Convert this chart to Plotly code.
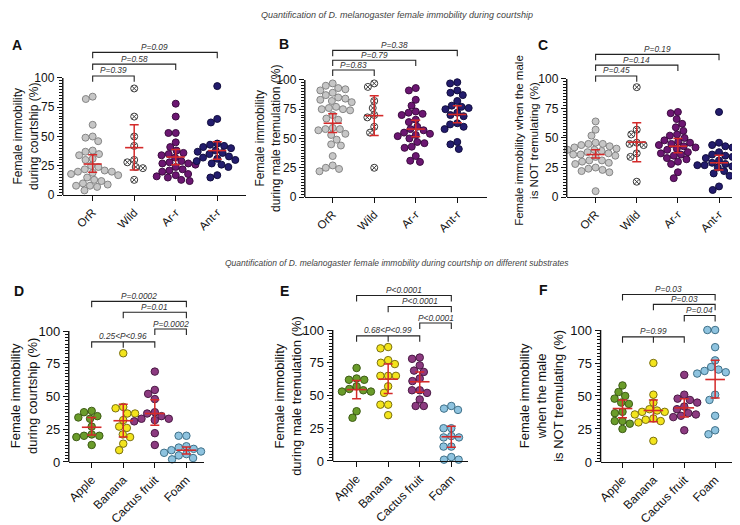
import numpy as np
import plotly.graph_objects as go

W, H = 740, 525

TOP_CATS = ["OrR", "Wild", "Ar-r", "Ant-r"]
BOT_CATS = ["Apple", "Banana", "Cactus fruit", "Foam"]

# ---------------- data ----------------
A_orr = [84, 82, 60, 50, 49, 46, 38, 37, 35, 34, 31, 30, 25, 24, 22, 21, 20, 20, 19, 18, 17, 15, 13, 12, 10, 9, 8, 8, 7, 4]
A_wild = [91, 67, 50, 42, 30, 28, 24, 23, 13]
A_arr = [78, 67, 53, 53, 45, 41, 38, 36, 35, 34, 32, 29, 28, 27, 27, 26, 24, 22, 21, 20, 18, 17, 16, 15, 13, 12]
A_antr = [93, 65, 62, 44, 43, 42, 41, 40, 38, 37, 36, 35, 33, 32, 31, 30, 29, 27, 26, 24, 17, 15]
A_mean = [26.5, 40.5, 32.5, 38]
A_lo = [19.5, 21.5, 26, 30.5]
A_hi = [34.5, 60, 39, 45.5]

B_orr = [97, 95, 93, 92, 91, 89, 87, 85, 84, 83, 82, 81, 77, 76, 75, 75, 74, 70, 67, 66, 59, 58, 58, 57, 54, 53, 49, 45, 44, 35, 27, 25, 24, 22]
B_wild = [97, 94, 82, 76, 70, 68, 60, 55, 25]
B_arr = [93, 91, 83, 78, 73, 72, 71, 70, 66, 64, 60, 58, 57, 55, 54, 53, 52, 50, 47, 46, 43, 42, 35, 31, 30]
B_antr = [98, 97, 91, 89, 87, 82, 78, 77, 76, 75, 72, 70, 69, 63, 62, 60, 58, 47, 45, 41]
B_mean = [63, 69.5, 58, 70.5]
B_lo = [55, 52.5, 51.5, 63.5]
B_hi = [71, 86.5, 65.5, 78]

C_orr = [64, 57, 52, 46, 45, 45, 44, 43, 42, 41, 40, 40, 39, 38, 37, 36, 36, 35, 34, 31, 31, 30, 29, 28, 25, 24, 23, 22, 21, 5]
C_wild = [93, 57, 53, 46, 45, 44, 37, 34, 13]
C_arr = [72, 71, 66, 62, 59, 56, 53, 52, 50, 48, 47, 46, 45, 44, 43, 42, 41, 40, 38, 37, 36, 35, 33, 32, 30, 28, 21, 16]
C_antr = [72, 46, 44, 43, 42, 38, 36, 35, 34, 33, 31, 30, 29, 28, 27, 27, 26, 25, 22, 20, 18, 9, 6]
C_mean = [36, 46.5, 43, 29]
C_lo = [33, 30, 37.5, 23]
C_hi = [40, 63, 49.5, 35.5]

D_apple = [39, 38, 35, 34, 33, 27, 21, 20, 20, 19, 13]
D_banana = [83, 42, 41, 37, 37, 32, 27, 26, 21, 19, 14, 9]
D_cactus = [69, 55, 52, 48, 38, 37, 35, 33, 33, 32, 31, 22, 13]
D_foam = [20, 20, 12, 11, 10, 9, 8, 7, 7, 6, 5, 3, 2]
D_mean = [26.5, 31.5, 37, 9]
D_lo = [20.5, 19, 28, 6]
D_hi = [34, 44, 47.5, 11.5]

E_apple = [71, 63, 62, 62, 57, 55, 54, 53, 53, 38, 33]
E_banana = [87, 86, 77, 75, 74, 65, 65, 65, 57, 52, 43, 43, 35]
E_cactus = [79, 78, 73, 69, 68, 63, 61, 54, 54, 52, 47, 42, 42]
E_foam = [42, 40, 39, 25, 25, 19, 18, 18, 11, 11, 3, 1, 1]
E_mean = [54.5, 62.5, 60.5, 18.5]
E_lo = [47.5, 51.5, 52.5, 10.5]
E_hi = [61.5, 74, 68, 26.5]

F_apple = [58, 53, 50, 48, 45, 44, 38, 37, 31, 31, 29, 25]
F_banana = [75, 51, 45, 40, 39, 38, 38, 36, 33, 32, 31, 30, 16]
F_cactus = [66, 51, 48, 47, 45, 42, 40, 37, 36, 35, 34, 24]
F_foam = [100, 100, 87, 77, 72, 70, 69, 68, 67, 51, 47, 35, 24, 21]
F_mean = [40.5, 39, 41, 62.5]
F_lo = [33.5, 30.5, 34, 48.5]
F_hi = [47, 47, 48, 77]

A_p = ["P=0.39", "P=0.58", "P=0.09"]
B_p = ["P=0.83", "P=0.79", "P=0.38"]
C_p = ["P=0.45", "P=0.14", "P=0.19"]
D_p = ["0.25<P<0.96", "P=0.0002", "P=0.01", "P=0.0002"]
E_p = ["0.68<P<0.99", "P<0.0001", "P<0.0001", "P<0.0001"]
F_p = ["P=0.99", "P=0.04", "P=0.03", "P=0.03"]

# ---------------- styles ----------------
FONT = "Arial, Liberation Sans, sans-serif"
RED = "#d42a2a"
TOP_STYLE = [
    dict(symbol="circle", color="#c6c6c6", line=dict(color="#858585", width=1)),
    dict(symbol="circle-x-open", color="#3a3a3a", line=dict(color="#3a3a3a", width=1)),
    dict(symbol="circle", color="#6c1672", line=dict(color="#3c0c40", width=1)),
    dict(symbol="circle", color="#231c6d", line=dict(color="#110d3e", width=1)),
]
BOT_STYLE = [
    dict(symbol="circle", color="#6a9c2a", line=dict(color="#3e5c16", width=1)),
    dict(symbol="circle", color="#f3e41c", line=dict(color="#7a7012", width=1)),
    dict(symbol="circle", color="#8c3a80", line=dict(color="#4a1a44", width=1)),
    dict(symbol="circle", color="#8ec3df", line=dict(color="#3f7088", width=1)),
]

# panel geometry (pixels): x-left, x-right, first category px, category spacing, y0 px, y100 px, top px
panels = [
    dict(key="A", groups=[A_orr, A_wild, A_arr, A_antr], mean=A_mean, lo=A_lo, hi=A_hi, cats=TOP_CATS, style=TOP_STYLE,
         geo=(52, 236, 82, 41.7, 190, 71, 33), letter=(6, 38), title="Female immobility<br>during courtship (%)", tpos=(15, 130),
         br=[(0, 1, None, 101.7), (0, 2, None, 111.8), (0, 3, None, 121.8)], pv=A_p, fs=12, xfs=11.5, tfs=12),
    dict(key="B", groups=[B_orr, B_wild, B_arr, B_antr], mean=B_mean, lo=B_lo, hi=B_hi, cats=TOP_CATS, style=TOP_STYLE,
         geo=(295, 478, 323, 41.7, 192, 73, 33), letter=(274, 37), title="Female immobility<br>during male tremulation (%)", tpos=(258, 132),
         br=[(0, 1, None, 108.4), (0, 2, None, 116.8), (0, 3, None, 125.2)], pv=B_p, fs=12, xfs=11.5, tfs=12),
    dict(key="C", groups=[C_orr, C_wild, C_arr, C_antr], mean=C_mean, lo=C_lo, hi=C_hi, cats=TOP_CATS, style=TOP_STYLE,
         geo=(558, 740, 587, 41.3, 192, 72, 33), letter=(534, 38), title="Female immobility when the male<br>is NOT tremulating (%)", tpos=(518, 134),
         br=[(0, 1, None, 102.5), (0, 2, None, 111.7), (0, 3, None, 120.8)], pv=C_p, fs=12, xfs=11.5, tfs=11.5),
    dict(key="D", groups=[D_apple, D_banana, D_cactus, D_foam], mean=D_mean, lo=D_lo, hi=D_hi, cats=BOT_CATS, style=BOT_STYLE,
         geo=(58, 194, 81, 31.7, 461, 328, 280), letter=(8, 287), title="Female immobility<br>during courtship (%)", tpos=(13, 394),
         br=[(0, 2, 1, 91.7), (2, 3, None, 101.5), (1, 3, None, 114.3), (0, 3, None, 122.6)], pv=D_p, fs=13, xfs=12, tfs=13),
    dict(key="E", groups=[E_apple, E_banana, E_cactus, E_foam], mean=E_mean, lo=E_lo, hi=E_hi, cats=BOT_CATS, style=BOT_STYLE,
         geo=(323, 459, 347, 31.7, 460, 327, 278), letter=(275, 287), title="Female immobility<br>during male tremulation (%)", tpos=(278, 394),
         br=[(0, 2, 1, 95.5), (2, 3, None, 105.3), (1, 3, None, 118.0), (0, 3, None, 126.3)], pv=E_p, fs=13, xfs=12, tfs=13),
    dict(key="F", groups=[F_apple, F_banana, F_cactus, F_foam], mean=F_mean, lo=F_lo, hi=F_hi, cats=BOT_CATS, style=BOT_STYLE,
         geo=(592, 724, 614, 31.0, 461, 327, 278), letter=(535, 286), title="Female immobility<br>when the male<br>is NOT tremulating (%)", tpos=(533, 394),
         br=[(0, 2, 1, 94.8), (2, 3, None, 111.0), (1, 3, None, 119.4), (0, 3, None, 126.9)], pv=F_p, fs=13, xfs=12, tfs=13),
]


def swarm(vals, ypx, xpx, d):
    """Simple beeswarm: returns x offsets (category units) so markers do not overlap."""
    vals = np.asarray(vals, float)
    order = np.argsort(-vals, kind="stable")
    placed = []
    offs = np.zeros(len(vals))
    for idx in order:
        y = vals[idx] * ypx
        cands = [0.0]
        for px, py in placed:
            dy = abs(py - y)
            if dy < d:
                dx = np.sqrt(d * d - dy * dy)
                cands += [px + dx, px - dx]
        cands.sort(key=lambda c: (round(abs(c), 3), c))
        for c in cands:
            if all((c - px) ** 2 + (y - py) ** 2 >= d * d - 1e-6 for px, py in placed):
                offs[idx] = c
                break
        placed.append((offs[idx], y))
    return offs / xpx


fig = go.Figure()
layout = dict(
    width=W, height=H, margin=dict(l=0, r=0, t=0, b=0),
    paper_bgcolor="white", plot_bgcolor="white", showlegend=False,
    font=dict(family=FONT, color="#111"),
)
shapes = []
annotations = []

for k, p in enumerate(panels):
    n = "" if k == 0 else str(k + 1)
    xa, ya = "x" + n, "y" + n
    xl, xr, c0, sp, y0, y100, ytop = p["geo"]
    ypx = (y0 - y100) / 100.0
    ytop_val = (y0 - ytop) / ypx
    xr0 = (xl - c0) / sp
    xr1 = (xr - c0) / sp
    top_row = k < 3
    msize = 7 if top_row else 7.5

    for gi, vals in enumerate(p["groups"]):
        offs = swarm(vals, ypx, sp, msize + 0.3)
        st = p["style"][gi]
        fig.add_trace(go.Scatter(
            x=gi + offs, y=vals, mode="markers", xaxis=xa, yaxis=ya, cliponaxis=False,
            marker=dict(size=msize, symbol=st["symbol"], color=st["color"], line=st["line"]),
            hoverinfo="y",
        ))
    cats_x = list(range(len(p["cats"])))
    fig.add_trace(go.Scatter(
        x=cats_x, y=p["mean"], mode="markers", xaxis=xa, yaxis=ya, cliponaxis=False,
        marker=dict(symbol="line-ew", size=13 if top_row else 14, line=dict(color=RED, width=1.6)),
        error_y=dict(type="data", symmetric=False,
                     array=[h - m for h, m in zip(p["hi"], p["mean"])],
                     arrayminus=[m - l for m, l in zip(p["mean"], p["lo"])],
                     color=RED, thickness=1.5, width=4.5),
        hoverinfo="y",
    ))

    layout["xaxis" + n] = dict(
        domain=[xl / W, xr / W], range=[xr0, xr1], anchor=ya,
        tickmode="array", tickvals=cats_x, ticktext=p["cats"], tickangle=-45,
        showline=True, linecolor="#111", linewidth=1.4, ticks="outside", ticklen=5,
        tickwidth=1.3, tickcolor="#111", showgrid=False, zeroline=False,
        tickfont=dict(family=FONT, size=p["xfs"], color="#111"),
    )
    layout["yaxis" + n] = dict(
        domain=[1 - y0 / H, 1 - ytop / H], range=[0, ytop_val], anchor=xa,
        tickmode="array", tickvals=[0, 25, 50, 75, 100], ticks="outside", ticklen=5,
        tickwidth=1.3, tickcolor="#111", showline=False, showgrid=False, zeroline=False,
        tickfont=dict(family=FONT, size=p["fs"], color="#111"),
        minor=dict(tickmode="array", tickvals=list(np.arange(0, 100.01, 2.5)), ticks="outside",
                   ticklen=2.5, tickwidth=0.8, tickcolor="#111"),
    )
    # y axis line from 0 to 100
    shapes.append(dict(type="line", xref=xa + " domain", yref=ya, x0=0, x1=0, y0=0, y1=100,
                       line=dict(color="#111", width=1.4)))

    # significance brackets
    tip = 6.0 / ypx
    for (i, j, mid, lev), lab in zip(p["br"], p["pv"]):
        path = f"M {i},{lev - tip} L {i},{lev} L {j},{lev} L {j},{lev - tip}"
        if mid is not None:
            path += f" M {mid},{lev} L {mid},{lev - tip}"
        shapes.append(dict(type="path", xref=xa, yref=ya, path=path,
                           line=dict(color="#222", width=1.1)))
        annotations.append(dict(
            x=(i + j) / 2, y=lev, xref=xa, yref=ya, text=lab, showarrow=False,
            yanchor="bottom", xanchor="center", yshift=-0.5, borderpad=0,
            font=dict(family=FONT, size=8.3, color="#333", style="italic"),
        ))

    # panel letter
    lx, ly = p["letter"]
    annotations.append(dict(x=lx / W, y=1 - ly / H, xref="paper", yref="paper", text="<b>" + p["key"] + "</b>",
                            showarrow=False, xanchor="center", yanchor="middle",
                            font=dict(family=FONT, size=14, color="#111")))
    # y title
    tx, ty = p["tpos"]
    annotations.append(dict(x=tx / W, y=1 - ty / H, xref="paper", yref="paper", text=p["title"],
                            showarrow=False, textangle=-90, xanchor="center", yanchor="middle",
                            font=dict(family=FONT, size=p["tfs"], color="#111")))

annotations.append(dict(x=388 / W, y=1 - 7 / H, xref="paper", yref="paper",
                        text="Quantification of D. melanogaster female immobility during courtship",
                        showarrow=False, xanchor="center", yanchor="middle",
                        font=dict(family=FONT, size=9, color="#444", style="italic")))
annotations.append(dict(x=388 / W, y=1 - 259 / H, xref="paper", yref="paper",
                        text="Quantification of D. melanogaster female immobility during courtship on different substrates",
                        showarrow=False, xanchor="center", yanchor="middle",
                        font=dict(family=FONT, size=8.5, color="#444", style="italic")))

layout["shapes"] = shapes
layout["annotations"] = annotations
fig.update_layout(**layout)
fig.write_html("out.html")
